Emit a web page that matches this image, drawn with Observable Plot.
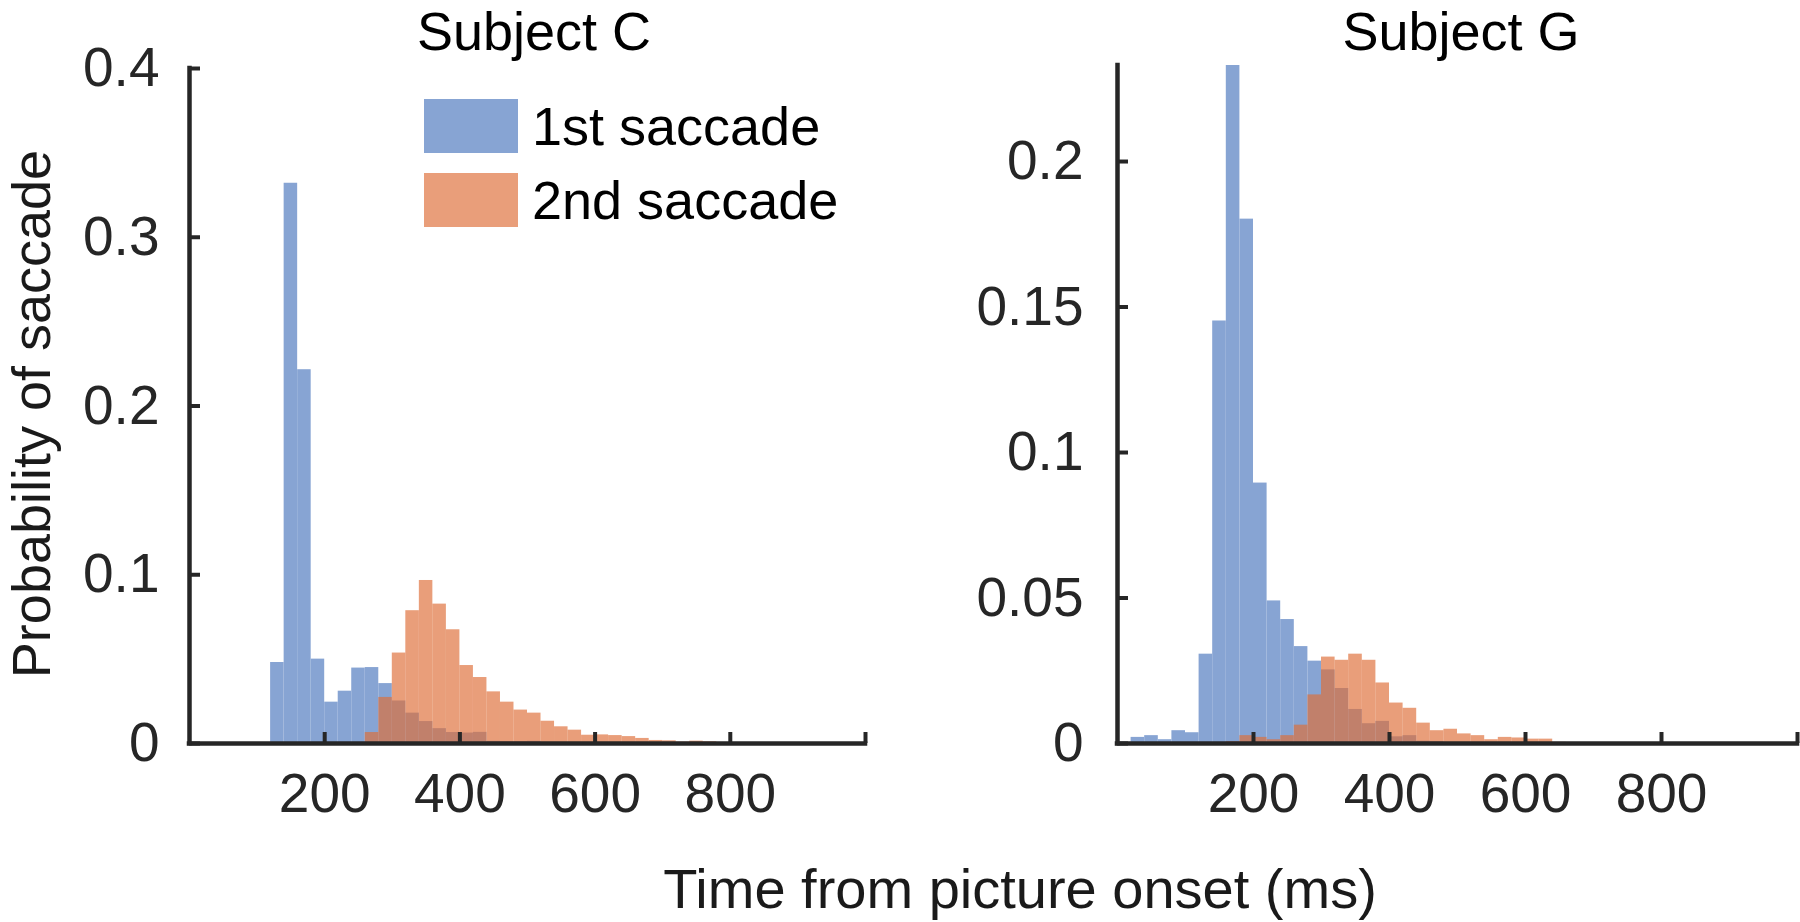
<!DOCTYPE html>
<html><head><meta charset="utf-8">
<script src="https://cdn.jsdelivr.net/npm/d3@7"></script>
<script src="https://cdn.jsdelivr.net/npm/@observablehq/plot@0.6"></script>
<style>
html,body{margin:0;padding:0;background:#fff;}
#root{position:relative;width:1800px;height:922px;overflow:hidden;font-family:"Liberation Sans",Arial,Helvetica,sans-serif;}
.panel{position:absolute;top:0;}
.lbl{position:absolute;white-space:nowrap;line-height:0.8;}
.sw{position:absolute;}
</style></head><body><div id="root"></div>
<script>
// ---------- data ----------
const binWidth = 20;

// Subject C
const cBlueBins = [120,140,160,180,200,220,240,260,280,300,320,340,360,380,400,420,440,460,480,500,520,540];
const cBlueVals = [0.048,0.332,0.2215,0.050,0.0245,0.031,0.0447,0.045,0.0355,0.0252,0.018,0.013,0.0088,0.0065,0.0062,0.0066,0.0013,0.0011,0.0011,0.0013,0.0004,0.0004];
const cOrangeBins = [260,280,300,320,340,360,380,400,420,440,460,480,500,520,540,560,580,600,620,640,660,680,700,720,740,760];
const cOrangeVals = [0.0065,0.0273,0.0536,0.0787,0.0966,0.0826,0.0674,0.0462,0.0391,0.0306,0.0245,0.0198,0.018,0.0132,0.0099,0.0079,0.0049,0.0051,0.0047,0.0041,0.003,0.0018,0.0016,0.0008,0.0014,0.001];

// Subject G
const gBlueBins = [0,20,40,60,80,100,120,140,160,180,200,220,240,260,280,300,320,340,360,380,400,420,440,460];
const gBlueVals = [0.0004,0.0021,0.0027,0.0013,0.0044,0.0037,0.0307,0.1452,0.233,0.1802,0.0895,0.049,0.0426,0.0333,0.0283,0.0253,0.0189,0.0117,0.0068,0.0076,0.0023,0.0027,0.0008,0.0006];
const gOrangeBins = [160,180,200,220,240,260,280,300,320,340,360,380,400,420,440,460,480,500,520,540,560,580,600,620,640,660];
const gOrangeVals = [0.0006,0.0027,0.0021,0.0013,0.0027,0.0063,0.0167,0.0297,0.0286,0.0307,0.0286,0.0208,0.0139,0.0121,0.007,0.0044,0.0049,0.0033,0.0027,0.0013,0.0021,0.0019,0.0015,0.0015,0.0004,0.0002];

const xTickMarks = [200,400,600,800,1000];
const xTickLabels = [200,400,600,800];
const cYTicks = [0,0.1,0.2,0.3,0.4];
const gYTicks = [0,0.05,0.1,0.15,0.2];
const cYMax = 0.4;
const gYMax = 0.233;
const seriesNames = ["1st saccade","2nd saccade"];
const titles = ["Subject C","Subject G"];
const xLabel = "Time from picture onset (ms)";
const yLabel = "Probability of saccade";

// ---------- style ----------
const BLUE = "#87A4D3";
const ORANGE = "#DE6E38";
const ORANGE_ALPHA = 0.667;
const AXIS = "#262626";
const FONT = "Liberation Sans, Arial, Helvetica, sans-serif";

const root = document.getElementById("root");

function toRows(bins, vals) {
  return bins.map((b, i) => ({x1: b, x2: b + binWidth, y: vals[i]}));
}

function panel({blueBins, blueVals, orangeBins, orangeVals, yMax, yTicks, left, marginLeft, marginRight, marginTop, yPad}) {
  const chart = Plot.plot({
    width: 900, height: 922,
    marginLeft, marginRight, marginTop, marginBottom: 179,
    x: {domain: [0, 1000]},
    y: {domain: [0, yMax]},
    style: {fontFamily: FONT, fontSize: "55px", color: AXIS, background: "transparent", overflow: "visible"},
    marks: [
      Plot.rectY(toRows(blueBins, blueVals), {x1: "x1", x2: "x2", y: "y", fill: BLUE}),
      Plot.rectY(toRows(orangeBins, orangeVals), {x1: "x1", x2: "x2", y: "y", fill: ORANGE, fillOpacity: ORANGE_ALPHA}),
      Plot.axisX({ticks: xTickMarks, tickSize: -11, strokeWidth: 4, tickFormat: () => "", label: null}),
      Plot.axisX({ticks: xTickLabels, tickSize: 0, tickPadding: 29, tickFormat: d => String(d), label: null, fontSize: 55}),
      Plot.axisY({ticks: yTicks, tickSize: -11, strokeWidth: 4, tickFormat: () => "", label: null}),
      Plot.axisY({ticks: yTicks, tickSize: 0, tickPadding: yPad, tickFormat: d => String(d), label: null, fontSize: 55}),
      Plot.ruleY([0], {stroke: AXIS, strokeWidth: 4.5, strokeLinecap: "square"}),
      Plot.ruleX([0], {stroke: AXIS, strokeWidth: 4.5, strokeLinecap: "square"})
    ]
  });
  chart.classList.add("panel");
  chart.style.left = left + "px";
  root.appendChild(chart);
}

panel({blueBins: cBlueBins, blueVals: cBlueVals, orangeBins: cOrangeBins, orangeVals: cOrangeVals,
       yMax: cYMax, yTicks: cYTicks, left: 0, marginLeft: 189, marginRight: 35, marginTop: 68, yPad: 30});
panel({blueBins: gBlueBins, blueVals: gBlueVals, orangeBins: gOrangeBins, orangeVals: gOrangeVals,
       yMax: gYMax, yTicks: gYTicks, left: 900, marginLeft: 217, marginRight: 3, marginTop: 65, yPad: 34});

// ---------- text (titles, axis labels, legend) ----------
const BASE = 0.7465; // baseline offset (em) for line-height:0.8 in Liberation Sans
function label(text, x, baseline, size, anchor, color) {
  const d = document.createElement("div");
  d.className = "lbl";
  d.textContent = text;
  d.style.fontSize = size + "px";
  d.style.color = color || "#000";
  d.style.left = x + "px";
  d.style.top = (baseline - BASE * size) + "px";
  if (anchor === "middle") d.style.transform = "translateX(-50%)";
  root.appendChild(d);
  return d;
}
label(titles[0], 534, 50, 54, "middle", "#000");
label(titles[1], 1461, 50, 54, "middle", "#000");
label(xLabel, 1020, 909, 56, "middle", "#1a1a1a");

const yl = document.createElement("div");
yl.className = "lbl";
yl.textContent = yLabel;
yl.style.fontSize = "54px";
yl.style.color = "#1a1a1a";
yl.style.left = "0px";
yl.style.top = "0px";
yl.style.transformOrigin = "0 0";
yl.style.transform = "translate(50px,414px) rotate(-90deg) translate(-50%,-" + BASE + "em)";
root.appendChild(yl);

// legend
const legendColors = [BLUE, "rgba(222,110,56," + ORANGE_ALPHA + ")"];
seriesNames.forEach((name, i) => {
  const top = 99 + i * 74;
  const sw = document.createElement("div");
  sw.className = "sw";
  sw.style.left = "424px";
  sw.style.top = top + "px";
  sw.style.width = "94px";
  sw.style.height = "54px";
  sw.style.background = legendColors[i];
  root.appendChild(sw);
  label(name, 532, top + 46, 54, "start", "#000");
});
</script></body></html>
